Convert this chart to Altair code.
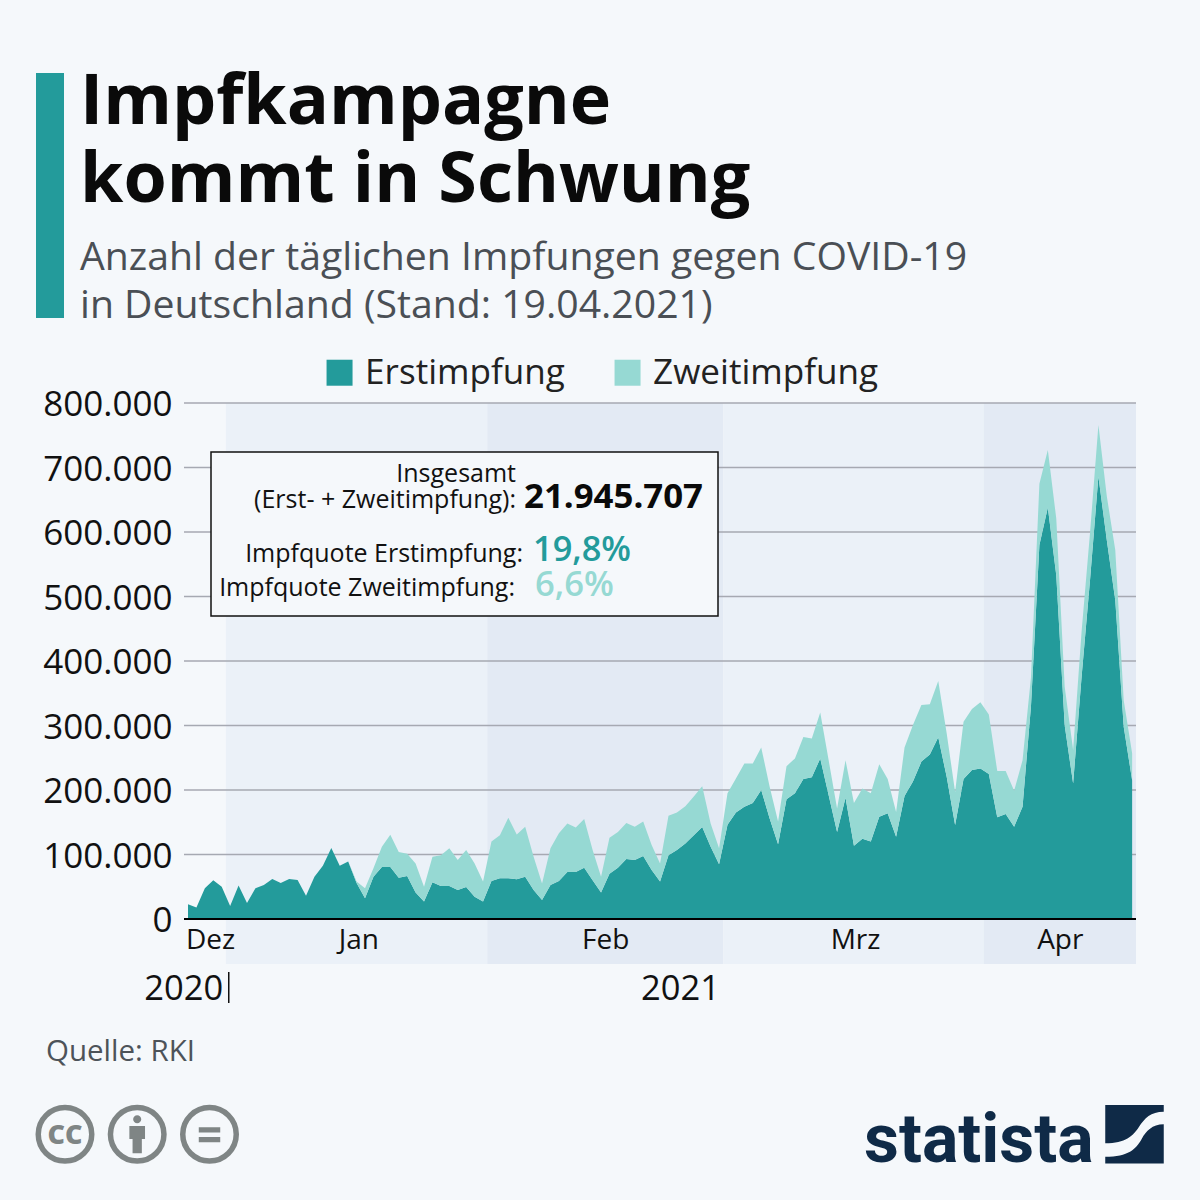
import altair as alt
import pandas as pd

# ---------- data ----------
start_date = "2020-12-27"
erst = [23000, 18000, 47500, 60000, 50000, 20000, 52000, 25000, 47500, 52700, 62000, 56000, 62000, 60500, 36000,
        65600, 82700, 110000, 82700, 89000, 56000, 32000, 65600, 80600, 80600, 64000, 66600, 41000, 27000, 57000,
        51000, 51000, 45000, 49600, 34600, 27000, 59000, 63000, 63000, 61500, 65600, 45000, 29500, 52700, 59000,
        73000, 73000, 79600, 60000, 41000, 70000, 79600, 93000, 91500, 97700, 76000, 58000, 99000, 107000, 117000,
        130000, 142600, 112000, 85000, 146000, 165000, 174000, 180000, 200000, 156000, 116000, 185500, 195000,
        217000, 219600, 249000, 192000, 135000, 188000, 113700, 124500, 120000, 158600, 164000, 127600, 190600,
        213000, 244000, 255000, 281600, 220600, 145700, 217000, 231000, 233500, 224800, 157600, 162800, 143000,
        174000, 330000, 580000, 638000, 533000, 300000, 210000, 375000, 525000, 686000, 587000, 494000, 298000,
        215000]
gesamt = [23000, 18000, 47500, 60000, 50000, 20000, 52000, 25000, 47500, 52700, 62000, 56000, 62000, 60500, 36000,
          65600, 82700, 110000, 82700, 89000, 58000, 47500, 78500, 112000, 130700, 104000, 101000, 86000, 50000,
          96600, 99000, 109500, 91500, 107000, 86000, 58000, 120000, 130000, 157000, 131000, 143000, 96600, 55000,
          109500, 133000, 148000, 142000, 155000, 107000, 65600, 126000, 135000, 149000, 143000, 151000, 114700,
          86000, 160000, 165000, 175000, 190000, 206000, 148000, 109500, 195000, 218000, 241000, 241000, 266000,
          205000, 151000, 237000, 249000, 282000, 280000, 320000, 246000, 171500, 246000, 180000, 202500, 195000,
          240000, 217000, 166000, 266000, 300700, 331700, 333000, 369000, 288000, 197000, 306000, 325500, 336000,
          317000, 229400, 229400, 199000, 246000, 375000, 675000, 727000, 621000, 360000, 262000, 445000, 598000,
          766000, 655000, 572000, 339000, 257000]
zweit = [g - e for g, e in zip(gesamt, erst)]

series_names = ["Erstimpfung", "Zweitimpfung"]
series_colors = ["#239b9b", "#96d9d3"]
y_ticks = [0, 100000, 200000, 300000, 400000, 500000, 600000, 700000, 800000]
band_starts = ["2020-12-31T12:00:00", "2021-01-31T12:00:00", "2021-02-28T12:00:00", "2021-03-31T10:00:00"]
band_ends = ["2021-01-31T12:00:00", "2021-02-28T12:00:00", "2021-03-31T10:00:00", "2021-04-18T11:00:00"]
band_colors = ["#ebf1f8", "#e3eaf4", "#ebf1f8", "#e3eaf4"]
year_labels = ["2020", "2021"]
year_dates = ["2020-12-26T12:00:00", "2021-02-23T10:00:00"]

BG = "#f5f8fb"
FONT = "Open Sans"
X0, Y0 = 184, 403  # page position of the plot area
W, H = 952, 516


def px(v):
    return v - X0


def py(v):
    return v - Y0


dates = pd.date_range(start_date, periods=len(erst), freq="D").strftime("%Y-%m-%dT00:00:00")
df = pd.concat([
    pd.DataFrame({"date": dates, "Serie": series_names[0], "wert": erst, "rang": 0}),
    pd.DataFrame({"date": dates, "Serie": series_names[1], "wert": zweit, "rang": 1}),
])

x_scale = alt.Scale(domain=["2020-12-26T12:37:00", "2021-04-18T11:00:00"])
y_scale = alt.Scale(domain=[0, 800000], nice=False)

x_axis = alt.Axis(
    values=[
        alt.DateTime(year=2020, month=12, date=29, hours=15),
        alt.DateTime(year=2021, month=1, date=16, hours=5),
        alt.DateTime(year=2021, month=2, date=14, hours=12),
        alt.DateTime(year=2021, month=3, date=16, hours=3),
        alt.DateTime(year=2021, month=4, date=9, hours=10),
    ],
    labelExpr="['Jan','Feb','Mrz','Apr','','','','','','','','Dez'][month(datum.value)]",
    labelFontSize=28, labelFont=FONT, labelColor="#111111", labelPadding=7, tickSize=0,
    domain=False, grid=False, title=None, labelOverlap=False, labelFlush=False, zindex=1,
)
y_axis = alt.Axis(
    values=y_ticks,
    labelExpr="replace(format(datum.value, ','), ',', '.')",
    labelFontSize=35, labelFont=FONT, labelColor="#111111", labelPadding=12, labelOffset=1.5, tickSize=0,
    domain=False, grid=False, title=None, labelOverlap=False, labelFlush=False,
)

bands = [
    alt.Chart(pd.DataFrame({"a": [a], "b": [b]})).mark_rect(color=c).encode(
        x=alt.X("a:T", scale=x_scale, axis=x_axis),
        x2="b:T",
        y=alt.value(0),
        y2=alt.value(561),
    )
    for a, b, c in zip(band_starts, band_ends, band_colors)
]

grid = alt.Chart(pd.DataFrame({"v": y_ticks[1:]})).mark_rule(color="#a6a9b2", strokeWidth=1.3).encode(
    x=alt.value(0), x2=alt.value(W),
    y=alt.Y("v:Q", scale=y_scale, axis=y_axis),
)

area = alt.Chart(df).mark_area(interpolate="linear", opacity=1).encode(
    x=alt.X("date:T", scale=x_scale, axis=x_axis),
    y=alt.Y("wert:Q", scale=y_scale, axis=y_axis, stack="zero"),
    color=alt.Color(
        "Serie:N",
        scale=alt.Scale(domain=series_names, range=series_colors),
        legend=alt.Legend(
            orient="none", legendX=px(322), legendY=py(355), direction="horizontal", title=None,
            symbolType="square", symbolSize=676, symbolStrokeWidth=0, symbolOpacity=1,
            labelFontSize=35.1, labelFont=FONT, labelColor="#222222", labelOffset=8,
            columnPadding=45, padding=0, labelLimit=400,
        ),
    ),
    order=alt.Order("rang:Q", sort="ascending"),
)

baseline = alt.Chart(pd.DataFrame({"v": [0]})).mark_rule(color="#000000", strokeWidth=2).encode(
    x=alt.value(0), x2=alt.value(W),
    y=alt.Y("v:Q", scale=y_scale, axis=y_axis),
)

years = alt.Chart(pd.DataFrame({"d": year_dates, "t": year_labels})).mark_text(
    font=FONT, fontSize=34.5, color="#111111", baseline="alphabetic", align="center",
).encode(
    x=alt.X("d:T", scale=x_scale, axis=x_axis),
    y=alt.value(py(1000)),
    text="t:N",
)


ONE = alt.Data(values=[{"k": 1}])


def txt(text, x, y, size, color="#111111", weight="normal", align="left", font=FONT, **kw):
    return alt.Chart(ONE).mark_text(
        text=text, font=font, fontSize=size, color=color, fontWeight=weight, align=align,
        baseline="alphabetic", **kw,
    ).encode(x=alt.value(px(x)), y=alt.value(py(y)))


def box(x1, y1, x2, y2, **kw):
    return alt.Chart(ONE).mark_rect(**kw).encode(
        x=alt.value(px(x1)), x2=alt.value(px(x2)), y=alt.value(py(y1)), y2=alt.value(py(y2)),
    )


def symbol(shape, x, y, diameter, color, filled=True, **kw):
    return alt.Chart(ONE).mark_point(
        shape=shape, filled=filled, size=diameter ** 2, opacity=1,
        **({"fill": color, "strokeWidth": 0} if filled else {"stroke": color}), **kw,
    ).encode(x=alt.value(px(x)), y=alt.value(py(y)))


ICON = "#7f8585"
NAVY = "#0f2a47"
logo_path = ("M-1 -1L1 -1L1 -.77C.55 -.77 .35 -.55 .15 -.25C-.05 .05 -.3 .31 -1 .31Z"
             "M1 -.34C.6 -.34 .4 -.1 .25 .15C.05 .5 -.2 .77 -1 .77L-1 1L1 1Z")
# person icon: head + body, equals icon: two bars (paths in a -1..1 box)
person_path = ("M-.14 -.52A.14 .14 0 1 1 .14 -.52A.14 .14 0 1 1 -.14 -.52Z"
               "M-.27 -.29L.27 -.29L.27 .16L.16 .16L.16 .65L-.16 .65L-.16 .16L-.27 .16Z")
equals_path = "M-.37 -.24L.37 -.24L.37 -.06L-.37 -.06ZM-.37 .09L.37 .09L.37 .27L-.37 .27Z"

decor = [
    box(36, 73, 64, 318, color="#239b9b"),
    txt("Impfkampagne", 80, 124, 70, color="#0a0a0a", weight="bold"),
    txt("kommt in Schwung", 80, 202, 70, color="#0a0a0a", weight="bold"),
    txt("Anzahl der täglichen Impfungen gegen COVID-19", 80, 270, 39.2, color="#4a4f55"),
    txt("in Deutschland (Stand: 19.04.2021)", 80, 318, 39.2, color="#4a4f55"),
    box(211, 452, 718, 616, fill=BG, stroke="#111111", strokeWidth=1.5),
    txt("Insgesamt", 516, 482, 25, align="right"),
    txt("(Erst- + Zweitimpfung):", 516, 507.5, 25, align="right"),
    txt("21.945.707", 524, 508, 34.8, color="#0a0a0a", weight="bold"),
    txt("Impfquote Erstimpfung:", 523, 561.5, 25, align="right"),
    txt("19,8%", 533, 561, 34.4, color="#239b9b", weight=600),
    txt("Impfquote Zweitimpfung:", 515, 596, 25, align="right"),
    txt("6,6%", 535, 596, 34.6, color="#96d9d3", weight=600),
    box(228, 972, 229.5, 1003, color="#111111"),
    txt("Quelle: RKI", 46, 1061, 29.5, color="#4d5359"),
    symbol("circle", 65, 1134.3, 53.5, ICON, filled=False, strokeWidth=5.5),
    symbol("circle", 137.2, 1134.3, 53.5, ICON, filled=False, strokeWidth=5.5),
    symbol("circle", 209.5, 1134.3, 53.5, ICON, filled=False, strokeWidth=5.5),
    txt("CC", 65, 1144, 27, color=ICON, weight=800, align="center"),
    symbol(person_path, 137.2, 1134.3, 58, ICON),
    symbol(equals_path, 209.5, 1134.3, 58, ICON),
    txt("statista", 864, 1162, 68, color=NAVY, weight="bold", font="Roboto"),
    symbol(logo_path, 1134.5, 1134.3, 58.5, NAVY),
]

chart = alt.layer(*bands, grid, area, baseline, years, *decor).properties(
    width=W,
    height=H,
    background=BG,
    padding={"left": X0 - 8, "top": Y0 - 8, "right": 1192 - X0 - W, "bottom": 1192 - Y0 - H},
    autosize=alt.AutoSizeParams(type="none"),
).configure_view(stroke=None)

chart.save("out.html", embed_options={"renderer": "svg", "actions": False,
                                      "defaultStyle": "html,body{background:#f5f8fb}"})
